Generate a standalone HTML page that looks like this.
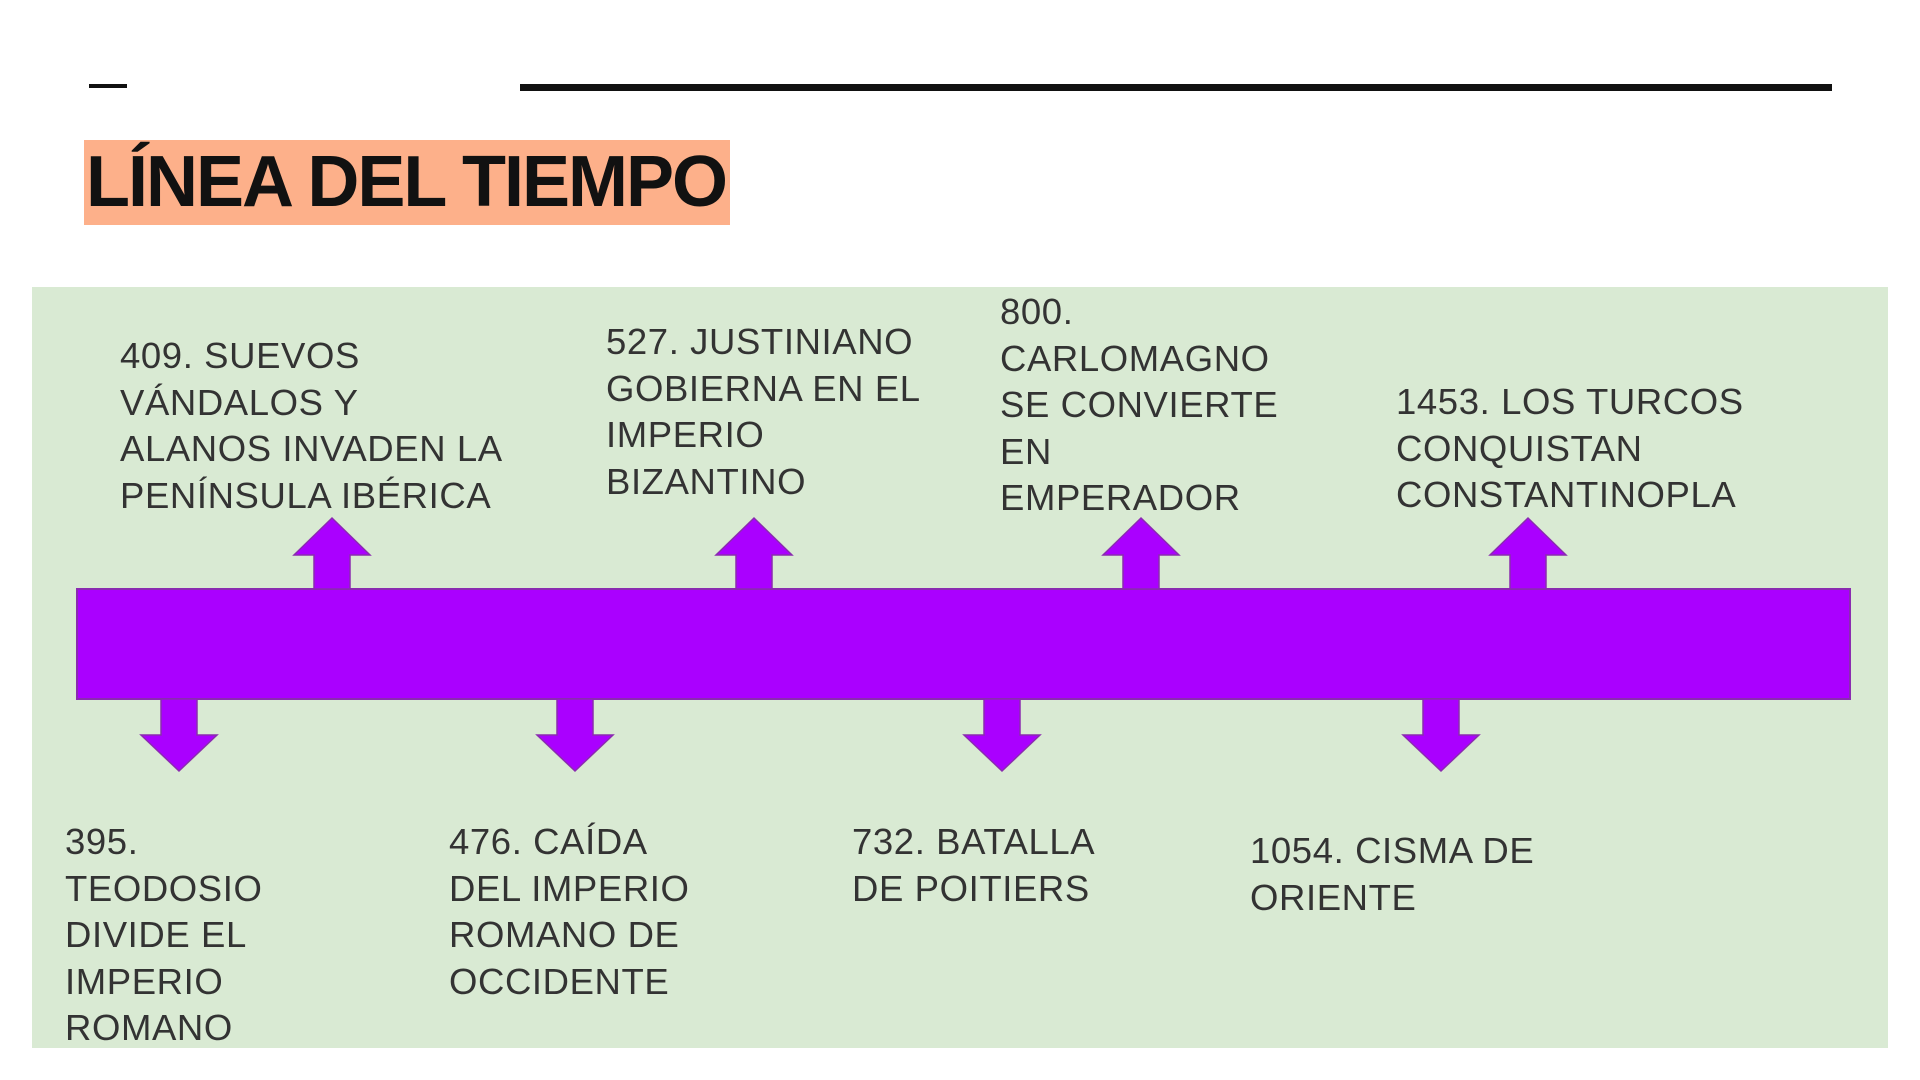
<!DOCTYPE html>
<html><head><meta charset="utf-8"><style>
html,body{margin:0;padding:0;background:#fff;width:1920px;height:1080px;overflow:hidden;font-family:"Liberation Sans",sans-serif}
.t{position:absolute;font-size:36.5px;line-height:46.5px;color:#333;white-space:nowrap;letter-spacing:0.6px}
</style></head><body>
<svg width="1920" height="1080" style="position:absolute;left:0;top:0">
<rect x="89" y="84" width="38" height="4" fill="#111"/>
<rect x="520" y="84" width="1312" height="7" fill="#111"/>
<rect x="84" y="140" width="646" height="85" fill="#fdb08a"/>
<text x="86" y="206" font-family="Liberation Sans" font-weight="bold" font-size="72" fill="#111" letter-spacing="-2">LÍNEA DEL TIEMPO</text>
<rect x="32" y="287" width="1856" height="761" fill="#d9ead3"/>
<rect x="77" y="589" width="1773" height="110" fill="#aa00ff" stroke="#8a2bb0" stroke-width="2"/>
<g fill="#aa00ff" stroke="#8a2bb0" stroke-width="1.5">
<polygon points="314,589 314,555 294,555 332,518 370,555 350,555 350,589" />
<polygon points="736,589 736,555 716,555 754,518 792,555 772,555 772,589" />
<polygon points="1123,589 1123,555 1103,555 1141,518 1179,555 1159,555 1159,589" />
<polygon points="1510,589 1510,555 1490,555 1528,518 1566,555 1546,555 1546,589" />
<polygon points="161,699 161,735 141,735 179,771 217,735 197,735 197,699" />
<polygon points="557,699 557,735 537,735 575,771 613,735 593,735 593,699" />
<polygon points="984,699 984,735 964,735 1002,771 1040,735 1020,735 1020,699" />
<polygon points="1423,699 1423,735 1403,735 1441,771 1479,735 1459,735 1459,699" />
</g>
</svg>
<div class="t" style="left:120px;top:333px">409. SUEVOS<br>VÁNDALOS Y<br>ALANOS INVADEN LA<br>PENÍNSULA IBÉRICA</div>
<div class="t" style="left:606px;top:319px">527. JUSTINIANO<br>GOBIERNA EN EL<br>IMPERIO<br>BIZANTINO</div>
<div class="t" style="left:1000px;top:289px">800.<br>CARLOMAGNO<br>SE CONVIERTE<br>EN<br>EMPERADOR</div>
<div class="t" style="left:1396px;top:379px">1453. LOS TURCOS<br>CONQUISTAN<br>CONSTANTINOPLA</div>
<div class="t" style="left:65px;top:819px">395.<br>TEODOSIO<br>DIVIDE EL<br>IMPERIO<br>ROMANO</div>
<div class="t" style="left:449px;top:819px">476. CAÍDA<br>DEL IMPERIO<br>ROMANO DE<br>OCCIDENTE</div>
<div class="t" style="left:852px;top:819px">732. BATALLA<br>DE POITIERS</div>
<div class="t" style="left:1250px;top:828px">1054. CISMA DE<br>ORIENTE</div>
</body></html>
